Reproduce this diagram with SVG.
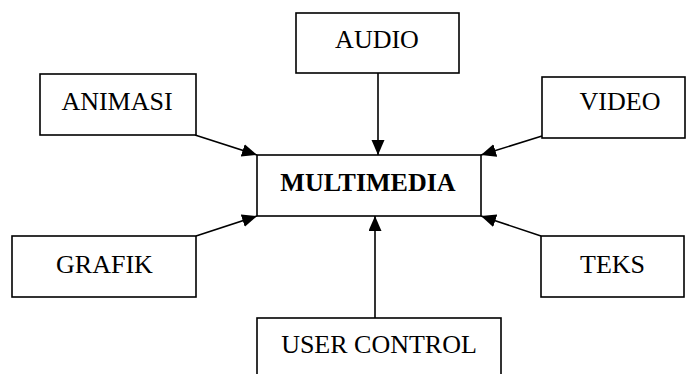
<svg xmlns="http://www.w3.org/2000/svg" width="686" height="374" viewBox="0 0 686 374">
<defs>
<marker id="arr" markerUnits="userSpaceOnUse" markerWidth="16" markerHeight="14" refX="15" refY="6.5" orient="auto">
<path d="M0,0 L15,6.5 L0,13 z" fill="#000"/>
</marker>
<style>
.box{fill:#fff;stroke:#000;stroke-width:1.6}
.t{font-family:"Liberation Serif","Times New Roman",serif;font-size:26px;fill:#000;text-anchor:middle}
.b{font-weight:bold}
.c{stroke:#000;stroke-width:1.6;fill:none;marker-end:url(#arr)}
</style>
</defs>
<rect width="686" height="374" fill="#fff"/>
<g id="connectors">
<line class="c" x1="378" y1="73" x2="378" y2="155"/>
<line class="c" x1="195" y1="135" x2="257" y2="155"/>
<line class="c" x1="542" y1="136" x2="481" y2="155"/>
<line class="c" x1="196" y1="236" x2="257" y2="216"/>
<line class="c" x1="541" y1="236" x2="481" y2="216"/>
<line class="c" x1="375" y1="318" x2="375" y2="216"/>
</g>
<g id="audio"><rect class="box" x="296" y="13" width="163" height="60"/><text class="t" x="377" y="48">AUDIO</text></g>
<g id="animasi"><rect class="box" x="40" y="74" width="156" height="61"/><text class="t" x="117" y="110">ANIMASI</text></g>
<g id="video"><rect class="box" x="542" y="77" width="143" height="61"/><text class="t" x="620" y="110">VIDEO</text></g>
<g id="multimedia"><rect class="box" x="257" y="155" width="224" height="61"/><text class="t b" x="368" y="191">MULTIMEDIA</text></g>
<g id="grafik"><rect class="box" x="12" y="236" width="184" height="61"/><text class="t" x="104.5" y="273">GRAFIK</text></g>
<g id="teks"><rect class="box" x="541" y="236" width="143" height="61"/><text class="t" x="612.5" y="273">TEKS</text></g>
<g id="usercontrol"><rect class="box" x="257" y="318" width="244" height="70"/><text class="t" x="379" y="353">USER CONTROL</text></g>
</svg>
